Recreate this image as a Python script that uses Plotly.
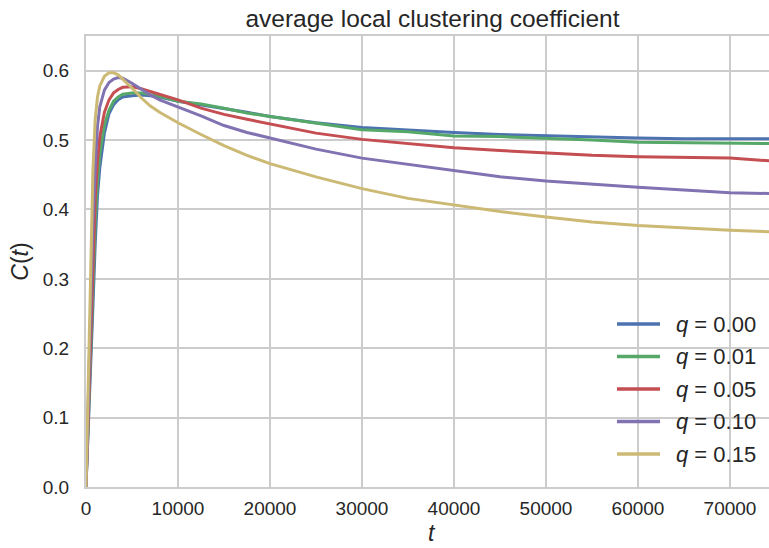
import plotly.graph_objects as go

# time steps at which the clustering coefficient was sampled
t = [0, 250, 500, 750, 1000, 1250, 1500, 2000, 2500, 3000, 3500, 4000, 5000,
     6000, 7000, 8000, 10000, 12500, 15000, 17500, 20000, 25000, 30000,
     35000, 40000, 45000, 50000, 55000, 60000, 65000, 70000, 74300]

# average local clustering coefficient C(t) for each rewiring probability q
c_q000 = [0.0, 0.08, 0.17, 0.26, 0.35, 0.42, 0.46, 0.51, 0.538, 0.551, 0.558,
          0.562, 0.564, 0.565, 0.564, 0.562, 0.556, 0.551, 0.546, 0.540, 0.534,
          0.525, 0.518, 0.514, 0.511, 0.508, 0.506, 0.505, 0.503, 0.502, 0.502,
          0.502]
c_q001 = [0.0, 0.09, 0.18, 0.28, 0.38, 0.44, 0.48, 0.522, 0.543, 0.556, 0.562,
          0.566, 0.568, 0.568, 0.566, 0.563, 0.556, 0.552, 0.546, 0.539, 0.534,
          0.524, 0.515, 0.512, 0.506, 0.505, 0.503, 0.500, 0.497, 0.496, 0.496,
          0.495]
c_q005 = [0.0, 0.10, 0.20, 0.31, 0.415, 0.47, 0.505, 0.540, 0.558, 0.568, 0.573,
          0.576, 0.577, 0.574, 0.570, 0.566, 0.558, 0.546, 0.537, 0.530, 0.523,
          0.510, 0.501, 0.495, 0.489, 0.485, 0.481, 0.478, 0.476, 0.475, 0.474,
          0.470]
c_q010 = [0.0, 0.12, 0.245, 0.38, 0.46, 0.52, 0.548, 0.572, 0.583, 0.588, 0.590,
          0.589, 0.582, 0.573, 0.565, 0.558, 0.548, 0.535, 0.521, 0.511, 0.503,
          0.487, 0.474, 0.465, 0.455, 0.447, 0.441, 0.436, 0.432, 0.428, 0.424,
          0.423]
c_q015 = [0.0, 0.14, 0.31, 0.455, 0.53, 0.562, 0.578, 0.592, 0.597, 0.597, 0.594,
          0.588, 0.575, 0.561, 0.549, 0.540, 0.525, 0.508, 0.492, 0.478, 0.466,
          0.447, 0.430, 0.416, 0.406, 0.397, 0.389, 0.382, 0.377, 0.373, 0.370,
          0.368]

labels = ["0.00", "0.01", "0.05", "0.10", "0.15"]
series = [c_q000, c_q001, c_q005, c_q010, c_q015]
colors = ["#4C72B0", "#55A868", "#C44E52", "#8172B2", "#CCB974"]

x_ticks = [0, 10000, 20000, 30000, 40000, 50000, 60000, 70000]
y_ticks = [0.0, 0.1, 0.2, 0.3, 0.4, 0.5, 0.6]

FONT = "Liberation Sans, Arial, sans-serif"
TEXT = "#262626"
GRID = "#cccccc"

W, H = 769, 548
L, T, B = 86, 36, 61
PLOT_H = H - T - B


def px_x(x):
    """Horizontal pixel -> paper fraction."""
    return (x - L) / (W - L)


def px_y(y):
    """Vertical pixel (from top) -> paper fraction."""
    return (H - B - y) / PLOT_H


fig = go.Figure()
for lab, vals, col in zip(labels, series, colors):
    fig.add_trace(go.Scatter(
        x=t, y=vals, mode="lines", name=f"q = {lab}",
        line=dict(color=col, width=3), showlegend=False,
    ))

# legend in the lower right: short line sample followed by the label
shapes, annotations = [], []
for i, (lab, col) in enumerate(zip(labels, colors)):
    yc = px_y(324 + i * 32.5)
    shapes.append(dict(type="line", xref="paper", yref="paper",
                       x0=px_x(617), x1=px_x(660), y0=yc, y1=yc,
                       line=dict(color=col, width=3.5)))
    annotations.append(dict(text=f"<i>q</i> = {lab}", xref="paper", yref="paper",
                            x=px_x(675), y=yc, xanchor="left", yanchor="middle",
                            showarrow=False, borderpad=0,
                            font=dict(size=22, color=TEXT, family=FONT)))

# x-axis title
annotations.append(dict(text="<i>t</i>", xref="paper", yref="paper",
                        x=px_x(432), y=px_y(547), xanchor="center",
                        yanchor="bottom", showarrow=False, borderpad=0,
                        font=dict(size=23, color=TEXT, family=FONT)))

fig.update_layout(
    width=W, height=H, autosize=False,
    margin=dict(l=L, r=0, t=T, b=B),
    paper_bgcolor="white", plot_bgcolor="white",
    font=dict(family=FONT, color=TEXT, size=19),
    title=dict(text="average local clustering coefficient",
               x=px_x(432.5), xref="paper", xanchor="center",
               y=1 - 18 / H, yref="container", yanchor="middle",
               font=dict(size=24.5, color=TEXT, family=FONT)),
    showlegend=False,
    shapes=shapes,
    annotations=annotations,
    xaxis=dict(range=[0, 74240], tickvals=x_ticks, tickformat="d",
               showgrid=True, gridcolor=GRID, gridwidth=2,
               showline=True, linecolor=GRID, linewidth=2, mirror=True,
               zeroline=False, ticks="", ticklabelstandoff=3,
               layer="below traces"),
    yaxis=dict(range=[0, 0.65], tickvals=y_ticks, tickformat=".1f",
               showgrid=True, gridcolor=GRID, gridwidth=2,
               showline=True, linecolor=GRID, linewidth=2,
               zeroline=False, ticks="", ticklabelstandoff=11,
               title=dict(text="<i>C</i>(<i>t</i>)", standoff=8,
                          font=dict(size=23, color=TEXT)),
               layer="below traces"),
)

fig.write_html("out.html")
